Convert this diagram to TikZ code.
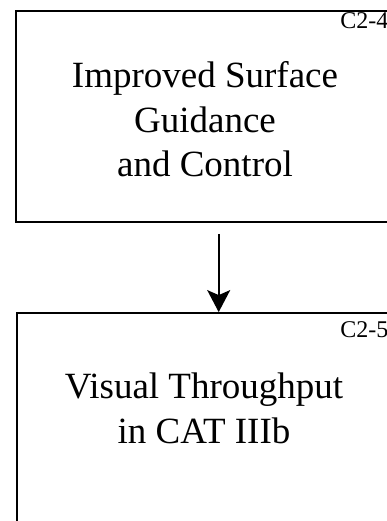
\documentclass[tikz,border=0pt]{standalone}
\usepackage{fontspec}
\setmainfont{Liberation Serif}
\usetikzlibrary{arrows.meta}
\begin{document}
\begin{tikzpicture}[x=1pt,y=1pt,
  blockbox/.style={draw, line width=1.8pt, minimum width=384pt, inner sep=0pt},
  blocktext/.style={align=center, font=\fontsize{37}{44.5}\selectfont, anchor=base},
  tag/.style={font=\fontsize{24}{26}\selectfont, anchor=base east, inner sep=0pt},
  flow/.style={line width=1.8pt, -{Stealth[length=22pt,width=23pt,inset=5pt]}}]
\useasboundingbox (0,0) rectangle (387,-521);
\clip (0,0) rectangle (387,-521);
% boxes (their right and lower sides run past the page)
\node[blockbox, minimum height=211pt] (top) at (208,-116.5) {};
\node[blockbox, minimum height=227pt] (bot) at (209,-426.5) {};
% titles (the base anchor sits on the last line)
\node[blocktext] (toptext) at (205,-177) {Improved Surface\\Guidance\\and Control};
\node[blocktext] (bottext) at (204,-443) {Visual Throughput\\in CAT IIIb};
% reference tags
\node[tag] (toptag) at (388.5,-29) {C2-4};
\node[tag] (bottag) at (388.5,-337) {C2-5};
% connector
\coordinate (ax) at (218.7,0);
\draw[flow] ([yshift=-11pt]top.south -| ax) -- (bot.north -| ax);
\end{tikzpicture}
\end{document}
